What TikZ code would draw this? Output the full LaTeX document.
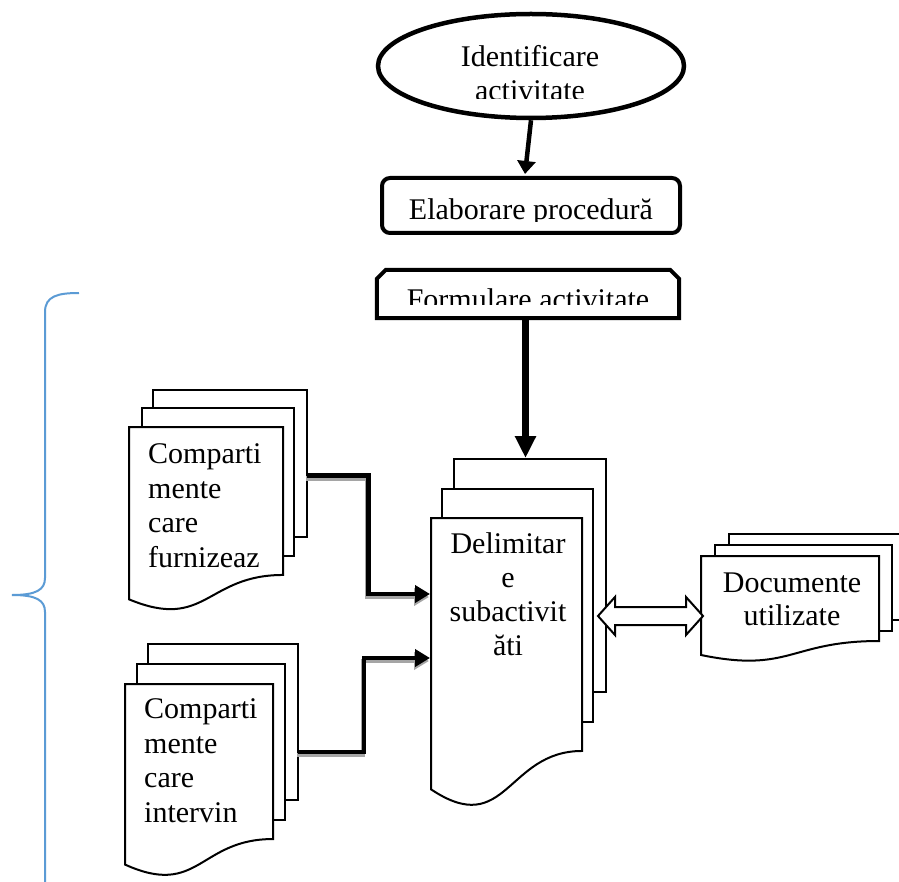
\documentclass[tikz,border=0pt]{standalone}
\usepackage{fontspec}
\setmainfont{Liberation Serif}
\usetikzlibrary{arrows.meta,calc,shapes.geometric}
\definecolor{braceblue}{RGB}{91,155,213}
\definecolor{shadowgray}{RGB}{165,165,165}

% one page of a flowchart "document" symbol: left x, right x, top y, height
\newcommand{\docsheet}[4]{%
  \path[sheet] (#1,#3) -- (#2,#3) -- (#2,{#3+0.802*#4})
    .. controls ({(#1+#2)/2},{#3+0.802*#4}) and ({(#1+#2)/2},{#3+1.1075*#4}) ..
    (#1,{#3+0.934*#4}) -- cycle;}

\tikzset{
  txt/.style={font=\fontsize{30}{34.5}\selectfont, inner sep=0pt},
  sheet/.style={draw=black, fill=white, line width=2pt},
  flowline/.style={draw=black, line width=4.5pt, -{Triangle[length=15pt,width=17pt]}},
  flowshadow/.style={draw=shadowgray, line width=4.5pt, -{Triangle[length=15pt,width=17pt]}},
  boxline/.style={draw=black, line width=4pt},
  bracepen/.style={draw=braceblue, line width=2pt},
}

\begin{document}
\begin{tikzpicture}[x=1pt,y=-1pt]
\useasboundingbox (0,0) rectangle (899,882);
\clip (0,0) rectangle (899,882);
\fill[white] (0,0) rectangle (899,882);

% blue brace on the left
\draw[bracepen] (79,293) .. controls (58,293) and (45,296) .. (45,312) -- (45,578)
  .. controls (45,590) and (36,595) .. (12,595)
  .. controls (36,595) and (45,600) .. (45,612) -- (45,890);

% top of the chart (multi-line nodes sit on the baseline of their last line)
\node[draw, ellipse, line width=4.5pt, minimum width=306pt, minimum height=104pt, inner sep=0pt] (ident) at (531,66) {};
\begin{scope}
  \clip (0,0) rectangle (899,99);
  \node[txt, align=center, anchor=base, font=\fontsize{30}{33.5}\selectfont] (identText) at (530,100.5) {Identificare\\activitate};
\end{scope}

\node[boxline, rounded corners=8pt, minimum width=298pt, minimum height=55pt, inner sep=0pt] (elab) at (531,205.5) {};
\begin{scope}
  \clip (0,0) rectangle (899,222);
  \node[txt, anchor=base] (elabText) at (531,220) {Elaborare procedură};
\end{scope}

\node[minimum width=302pt, minimum height=48pt, inner sep=0pt] (form) at (528,294) {};
\draw[boxline] (form.south west) -- ($(form.north west)+(0,9)$) -- ($(form.north west)+(9,0)$)
  -- ($(form.north east)+(-9,0)$) -- ($(form.north east)+(0,9)$) -- (form.south east) -- cycle;
\begin{scope}
  \clip (0,0) rectangle (899,305);
  \node[txt, anchor=base] (formText) at (528,310) {Formulare activitate};
\end{scope}

\draw[line width=4.5pt, -{Triangle[length=13pt,width=18pt]}] (ident.south) -- ($(elab.north)+(-6,-2)$);

% left upper stack
\draw[sheet] (153,390) rectangle (307,537);
\draw[sheet] (142,408) rectangle (294,556);
\docsheet{129}{283}{427}{184.5}
\node[txt, align=left, anchor=base west] (ltText) at (148,567) {Comparti\\mente\\care\\furnizeaz};
\coordinate (ltOut) at (307,475.5);

% left lower stack
\draw[sheet] (148,644) rectangle (298,800);
\draw[sheet] (137,664) rectangle (285,820);
\docsheet{125}{273}{684}{193.3}
\node[txt, align=left, anchor=base west] (lbText) at (144,822) {Comparti\\mente\\care\\intervin};
\coordinate (lbOut) at (298,752);

% central stack
\draw[sheet] (454,459) rectangle (606,692);
\draw[sheet] (442,489) rectangle (593,722);
\docsheet{431}{582}{518}{290.5}
\node[txt, align=center, anchor=base, font=\fontsize{30}{34}\selectfont] (ctText) at (508,655) {Delimitar\\e\\subactivit\\ăti};
\coordinate (ctIn1) at (430,594);
\coordinate (ctIn2) at (430,658);
\coordinate (ctTop) at (525.5,458);
\coordinate (ctSide) at (598,616);

% right stack
\draw[sheet] (729,534) rectangle (907,620);
\draw[sheet] (715,545) rectangle (892,631);
\docsheet{701}{879}{556}{106}
\node[txt, align=center, anchor=base, font=\fontsize{30}{33}\selectfont] (rtText) at (792,625) {Documente\\utilizate};
\coordinate (rtSide) at (703,616);

% connectors
\draw[line width=7pt, -{Triangle[length=22pt,width=20pt]}] (form.south -| ctTop) -- (ctTop);

\draw[flowshadow] ($(ltOut)+(-1,3)$) -| ($(ltOut)!.5!(ctIn1)+(-1,3)$) |- ($(ctIn1)+(-1,3)$);
\draw[flowline] (ltOut) -| ($(ltOut)!.5!(ctIn1)$) |- (ctIn1);

\draw[flowshadow] ($(lbOut)+(-1,3)$) -| ($(lbOut)!.5!(ctIn2)+(-1,3)$) |- ($(ctIn2)+(-1,3)$);
\draw[flowline] (lbOut) -| ($(lbOut)!.5!(ctIn2)$) |- (ctIn2);

% hollow two-way arrow
\draw[draw=black, fill=white, line width=2pt, line join=miter]
  (ctSide) -- ($(ctSide)+(17,-19)$) -- ($(ctSide)+(17,-9)$) -- ($(rtSide)+(-17,-9)$)
  -- ($(rtSide)+(-17,-19)$) -- (rtSide) -- ($(rtSide)+(-17,19)$) -- ($(rtSide)+(-17,9)$)
  -- ($(ctSide)+(17,9)$) -- ($(ctSide)+(17,19)$) -- cycle;
\end{tikzpicture}
\end{document}
